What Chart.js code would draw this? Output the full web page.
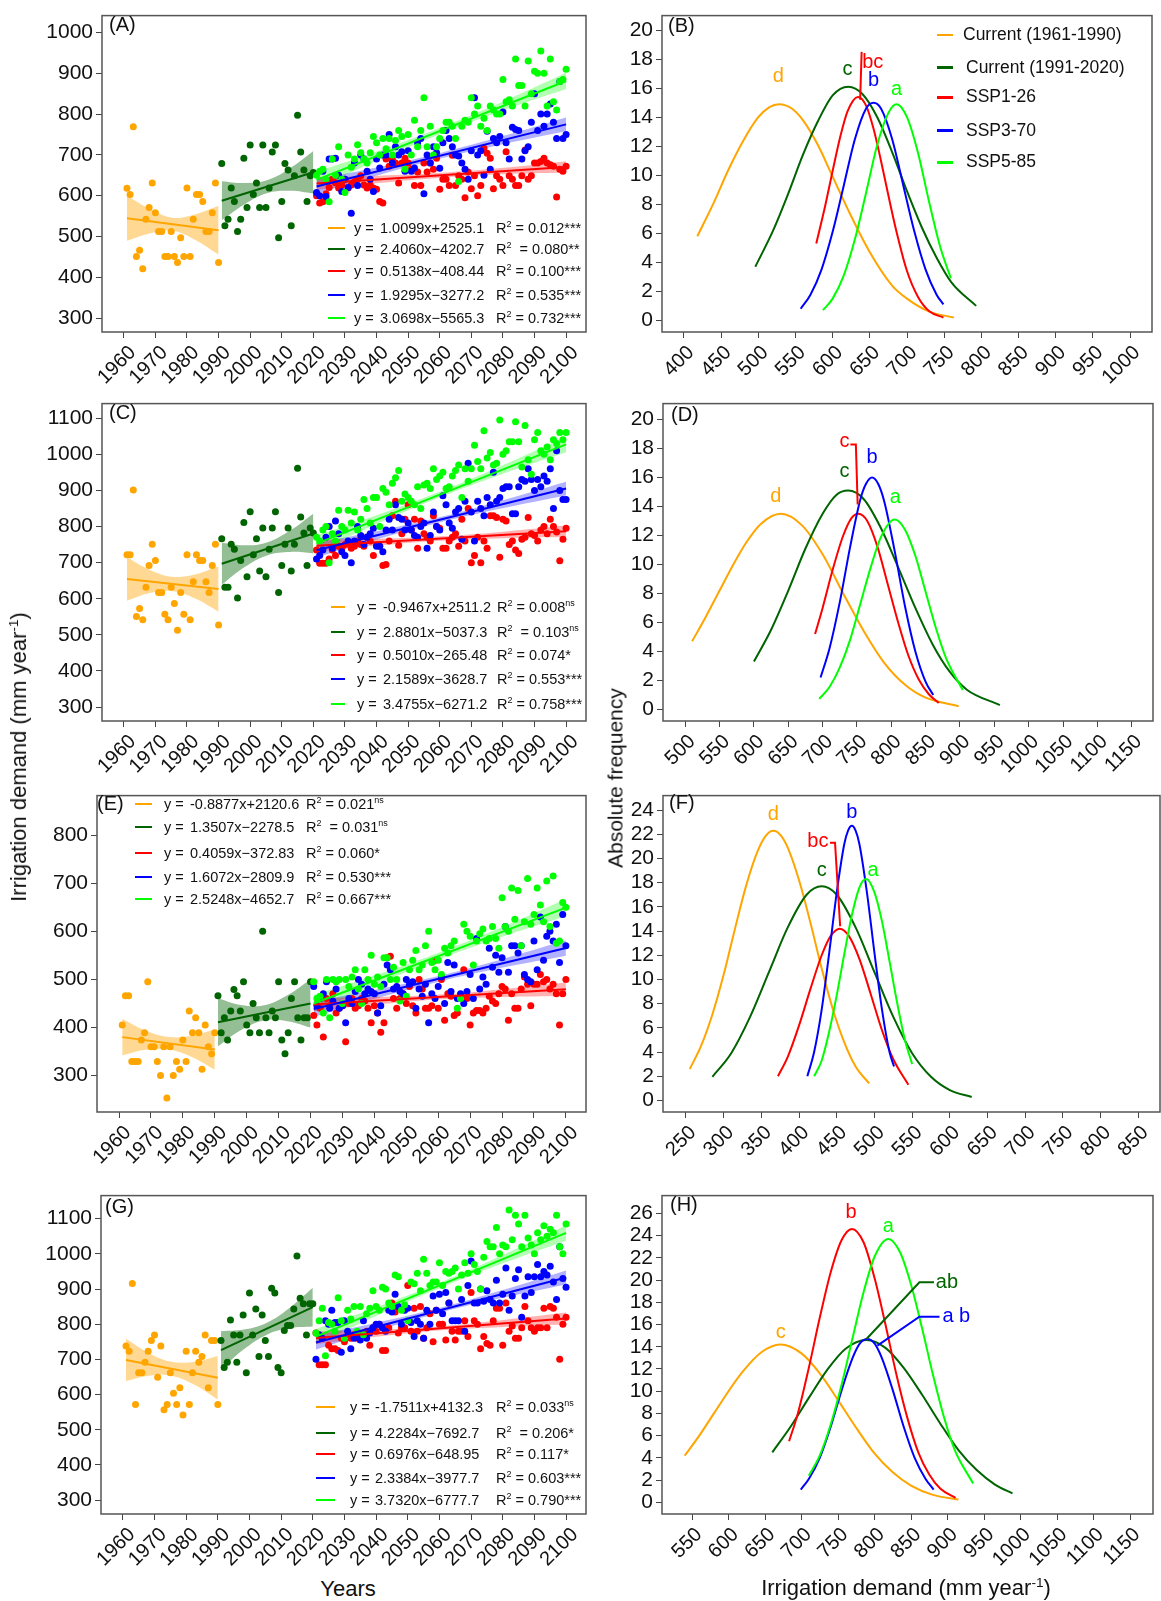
<!DOCTYPE html>
<html>
<head>
<meta charset="utf-8">
<title>Irrigation demand</title>
<script src="https://cdn.jsdelivr.net/npm/chart.js@4.4.1/dist/chart.umd.min.js"></script>
<style>
  body { margin: 0; background: #fff; font-family: "Liberation Sans", Arial, sans-serif; }
  #page { position: relative; width: 1161px; height: 1601px; overflow: hidden; background: #fff; }
  canvas { position: absolute; }
  .t { position: absolute; white-space: pre; color: #111; line-height: 1; }
  .t sup { font-size: 0.62em; vertical-align: 0.62em; line-height: 0; }
  .seg { position: absolute; height: 2.5px; }
</style>
</head>
<body>
<div id="page"></div>
<script>
const ORANGE = '#FFA500', DKGREEN = '#006400', RED = '#FF0000', BLUE = '#0000FF', GREEN = '#00FF00';
const COLORS = [ORANGE, DKGREEN, RED, BLUE, GREEN];
const BAND_COLORS = ['rgba(255,165,0,0.42)', 'rgba(0,100,0,0.42)', 'rgba(255,0,0,0.3)', 'rgba(0,0,255,0.3)', 'rgba(0,255,0,0.3)'];

// categories
const yearsP1 = [1961,1962,1963,1964,1965,1966,1967,1968,1969,1970,1971,1972,1973,1974,1975,1976,1977,1978,1979,1980,1981,1982,1983,1984,1985,1986,1987,1988,1989,1990];
const yearsP2 = [1991,1992,1993,1994,1995,1996,1997,1998,1999,2000,2001,2002,2003,2004,2005,2006,2007,2008,2009,2010,2011,2012,2013,2014,2015,2016,2017,2018,2019,2020];
const yearsF = [2021,2022,2023,2024,2025,2026,2027,2028,2029,2030,2031,2032,2033,2034,2035,2036,2037,2038,2039,2040,
  2041,2042,2043,2044,2045,2046,2047,2048,2049,2050,2051,2052,2053,2054,2055,2056,2057,2058,2059,2060,
  2061,2062,2063,2064,2065,2066,2067,2068,2069,2070,2071,2072,2073,2074,2075,2076,2077,2078,2079,2080,
  2081,2082,2083,2084,2085,2086,2087,2088,2089,2090,2091,2092,2093,2094,2095,2096,2097,2098,2099,2100];
const seriesNames = ['Current (1961-1990)', 'Current (1991-2020)', 'SSP1-26', 'SSP3-70', 'SSP5-85'];

// tick labels
const yearTicks = [1960,1970,1980,1990,2000,2010,2020,2030,2040,2050,2060,2070,2080,2090,2100];
const yTicksA = [300,400,500,600,700,800,900,1000];
const yTicksC = [300,400,500,600,700,800,900,1000,1100];
const yTicksE = [300,400,500,600,700,800];
const yTicksG = [300,400,500,600,700,800,900,1000,1100];
const xTicksB = [400,450,500,550,600,650,700,750,800,850,900,950,1000];
const xTicksD = [500,550,600,650,700,750,800,850,900,950,1000,1050,1100,1150];
const xTicksF = [250,300,350,400,450,500,550,600,650,700,750,800,850];
const xTicksH = [550,600,650,700,750,800,850,900,950,1000,1050,1100,1150];
const fTicks20 = [0,2,4,6,8,10,12,14,16,18,20];
const fTicks24 = [0,2,4,6,8,10,12,14,16,18,20,22,24];
const fTicks26 = [0,2,4,6,8,10,12,14,16,18,20,22,24,26];

// (A) yearly irrigation demand
const aOrange = [618,603,769,451,466,421,542,571,631,558,512,512,451,451,512,451,436,497,451,619,451,542,603,603,586,512,512,558,631,436];
const aDkGreen = [679,526,542,619,586,512,542,692,571,724,603,631,571,724,571,619,707,724,497,586,679,663,526,649,797,707,663,586,649,657];
const aRed = [600,582,585,605,620,640,632,619,626,640, 619,626,634,640,649,626,619,626,619,616,
  586,582,690,672,690,680,631,680,692,680, 665,625,658,625,680,658,680,665,692,616,
  640,640,625,699,625,649,640,595,658,617, 649,600,625,716,704,692,617,649,640,625,
  708,649,640,625,625,649,712,640,649,680, 680,684,692,680,676,672,597,665,660,672];
const aBlue = [608,600,660,598,690,690,692,650,610,640, 620,557,680,625,700,690,660,640,610,690,
  668,700,700,750,680,720,700,708,660,710, 660,668,730,740,605,700,680,720,705,667,
  730,760,740,720,700,697,680,665,640,710, 840,700,710,650,758,665,740,730,745,805,
  730,690,768,762,760,690,710,720,780,850, 760,800,770,800,825,780,740,880,740,750];
const aGreen = [650,660,665,640,585,690,650,720,640,608, 700,670,690,725,705,690,680,705,745,730,
  700,740,715,740,700,735,760,745,665,750, 700,785,720,760,840,720,770,700,720,740,
  760,780,780,770,740,635,770,785,780,840, 800,820,770,790,760,820,810,800,800,885,
  830,835,820,935,870,870,820,930,850,905, 900,955,900,820,935,830,810,880,885,910];
const slopeA = [-1.0099, 2.4060, 0.5138, 1.9295, 3.0698];
const interA = [2525.1, -4202.7, -408.44, -3277.2, -5565.3];
const bandA = [[55,30,16,32,60],[48,26,16,28,52],[16,9,6,8,14],[18,10,7,10,17],[20,11,8,11,20]];
const eqA = ['1.0099x+2525.1', '2.4060x\u22124202.7', '0.5138x\u2212408.44', '1.9295x\u22123277.2', '3.0698x\u22125565.3'];
const r2A = ['R<sup>2</sup> = 0.012***', 'R<sup>2</sup>  = 0.080**', 'R<sup>2</sup> = 0.100***', 'R<sup>2</sup> = 0.535***', 'R<sup>2</sup> = 0.732***'];

// (C)
const cOrange = [722,722,901,551,573,542,632,692,751,706,617,617,557,542,632,587,513,617,557,722,542,647,722,706,706,647,617,692,751,527];
const cDkGreen = [766,632,632,751,737,602,706,811,661,841,722,766,677,796,661,737,796,841,617,692,751,796,677,751,961,826,782,692,796,782];
const cRed = [735,698,698,698,710,735,720,745,740,750, 755,740,745,760,750,745,770,760,720,748,
  745,692,695,760,830,870,748,780,820,860, 790,820,740,815,780,770,760,830,800,795,
  740,740,760,770,780,745,820,760,850,700, 720,770,700,760,740,830,830,825,715,820,
  815,750,760,735,725,765,770,825,780,775, 760,790,800,780,820,800,785,705,765,795];
const cBlue = [710,720,735,770,800,740,815,780,730,720, 760,700,760,800,775,750,770,780,795,745,
  745,730,790,820,790,860,825,820,790,810, 790,775,770,800,810,740,775,840,800,790,
  885,860,810,795,840,850,765,870,975,840, 760,870,850,830,880,860,950,870,880,905,
  910,910,835,835,910,930,925,960,930,900, 930,910,940,925,960,850,1010,900,875,875];
const cGreen = [770,760,790,800,700,780,760,845,800,790, 845,810,840,790,820,875,850,810,880,880,
  800,905,895,860,920,935,955,870,890,880, 870,860,910,850,915,920,905,960,930,940,
  950,905,910,940,955,970,880,960,925,960, 1025,980,960,1065,990,1005,970,975,1095,1000,
  1010,1035,1035,1090,1035,965,1080,985,945,1040, 1060,1010,1000,1020,985,1040,1030,1060,1040,1060];
const slopeC = [-0.9467, 2.8801, 0.5010, 2.1589, 3.4755];
const interC = [2511.2, -5037.3, -265.48, -3628.7, -6271.2];
const bandC = [[60,32,20,34,63],[58,30,18,30,55],[17,9,6,9,16],[20,11,7,11,19],[22,12,8,12,22]];
const eqC = ['-0.9467x+2511.2', '2.8801x\u22125037.3', '0.5010x\u2212265.48', '2.1589x\u22123628.7', '3.4755x\u22126271.2'];
const r2C = ['R<sup>2</sup> = 0.008<sup>ns</sup>', 'R<sup>2</sup>  = 0.103<sup>ns</sup>', 'R<sup>2</sup> = 0.074*', 'R<sup>2</sup> = 0.553***', 'R<sup>2</sup> = 0.758***'];

// (E)
const eOrange = [405,466,466,329,329,329,374,389,495,360,360,329,300,360,253,360,300,329,313,374,329,434,389,420,389,313,405,360,345,389];
const eDkGreen = [466,389,420,374,434,479,466,434,495,405,389,450,420,389,600,420,389,434,420,495,374,345,389,460,495,420,374,420,420,495];
const eRed = [425,405,440,380,460,445,470,430,440,445, 370,450,460,440,445,460,455,440,410,445,
  430,390,410,545,548,460,440,460,470,450, 485,445,430,500,480,440,440,445,540,440,
  500,415,470,465,425,430,465,520,460,405, 430,435,435,430,440,465,455,450,470,485,
  480,415,470,440,440,480,505,490,445,490, 490,510,495,500,480,490,470,405,470,500];
const eBlue = [485,445,460,470,495,440,455,480,440,445, 410,460,450,475,500,490,470,480,475,470,
  430,445,490,530,520,480,485,475,470,500, 490,495,440,480,465,490,410,470,460,485,
  505,450,535,475,530,460,470,450,475,510, 460,585,480,505,490,565,525,550,515,545,
  610,515,570,570,555,570,510,500,495,580, 520,630,540,590,600,580,615,535,635,570];
const eGreen = [495,460,465,430,500,420,500,495,500,450, 500,485,505,520,480,450,520,500,550,490,
  505,485,545,545,500,525,500,455,535,465, 520,540,560,520,530,570,600,535,520,540,
  510,565,555,570,580,440,460,615,600,590, 530,580,595,605,580,585,610,585,565,670,
  610,600,690,625,685,570,620,710,615,635, 690,655,620,705,610,715,575,580,660,650];
const slopeE = [-0.8877, 1.3507, 0.4059, 1.6072, 2.5248];
const interE = [2120.6, -2278.5, -372.83, -2809.9, -4652.7];
const bandE = [[38,20,13,22,42],[50,26,16,27,50],[14,8,5,8,14],[16,9,6,9,16],[18,10,7,10,18]];
const eqE = ['-0.8877x+2120.6', '1.3507x\u22122278.5', '0.4059x\u2212372.83', '1.6072x\u22122809.9', '2.5248x\u22124652.7'];
const r2E = ['R<sup>2</sup> = 0.021<sup>ns</sup>', 'R<sup>2</sup>  = 0.031<sup>ns</sup>', 'R<sup>2</sup> = 0.060*', 'R<sup>2</sup> = 0.530***', 'R<sup>2</sup> = 0.667***'];

// (G)
const gOrange = [738,723,916,572,662,662,692,723,754,769,649,738,557,572,662,604,572,619,542,723,572,662,723,692,708,769,619,754,754,572];
const gDkGreen = [754,677,692,812,769,692,769,826,662,889,769,843,708,826,754,708,902,889,677,662,782,796,796,843,994,874,858,769,858,858];
const gRed = [775,685,685,685,740,730,730,725,760,750, 765,760,770,760,770,775,780,740,790,780,
  800,725,725,790,860,835,775,790,790,910, 780,845,780,850,760,790,830,750,840,800,
  800,755,860,780,755,780,780,810,765,890, 810,800,730,765,745,740,810,845,845,740,
  860,780,795,760,760,790,850,810,790,780, 790,790,845,790,850,845,820,700,800,820];
const gBlue = [700,770,760,810,800,840,805,805,720,810, 780,730,760,770,755,810,760,775,790,800,
  800,790,780,840,835,885,850,800,840,845, 805,765,810,800,760,840,800,880,840,885,
  830,890,860,810,810,810,870,780,910,980, 860,860,900,865,895,870,860,925,860,885,
  960,840,880,930,955,820,880,935,890,935, 970,935,950,940,965,920,870,1020,930,905];
const gGreen = [775,810,845,710,805,800,780,875,810,760, 840,815,850,780,850,770,830,845,895,850,
  840,905,900,860,850,940,935,840,855,810, 920,915,945,895,985,945,910,920,920,975,
  910,950,945,950,960,900,940,975,945,1000, 970,950,900,990,1035,1020,1020,1075,1000,1025,
  1020,1125,1040,1110,1085,1020,1110,1045,1025,1000, 1060,1040,1080,1050,1070,1060,1110,1020,1000,1085];
const slopeG = [-1.7511, 4.2284, 0.6976, 2.3384, 3.7320];
const interG = [4132.3, -7692.7, -648.95, -3977.7, -6777.7];
const bandG = [[60,32,20,33,62],[54,28,17,29,55],[18,10,6,10,17],[20,11,7,11,20],[22,12,8,12,22]];
const eqG = ['-1.7511x+4132.3', '4.2284x\u22127692.7', '0.6976x\u2212648.95', '2.3384x\u22123977.7', '3.7320x\u22126777.7'];
const r2G = ['R<sup>2</sup> = 0.033<sup>ns</sup>', 'R<sup>2</sup>  = 0.206*', 'R<sup>2</sup> = 0.117*', 'R<sup>2</sup> = 0.603***', 'R<sup>2</sup> = 0.790***'];

// (B) frequency curves [irrigation demand, absolute frequency]
const bOrange = [[418,5.8],[440,8.1],[460,10.4],[480,12.4],[500,14.0],[515,14.7],[528,14.9],[545,14.6],[560,13.8],[580,12.1],[600,9.9],[620,7.7],[650,4.7],[680,2.4],[700,1.5],[730,0.6],[763,0.2]];
const bDkGreen = [[496,3.7],[520,6.2],[540,8.7],[560,11.4],[580,13.7],[600,15.5],[621,16.1],[640,15.6],[660,14.0],[680,11.6],[700,8.9],[720,6.4],[740,4.3],[760,2.6],[793,1.0]];
const bRed = [[578,5.3],[590,7.9],[600,10.3],[610,12.6],[620,14.4],[634,15.4],[645,14.8],[655,13.2],[665,11.0],[675,8.6],[685,6.3],[700,3.4],[715,1.6],[730,0.63],[749,0.2]];
const bBlue = [[557,0.8],[570,1.75],[585,3.5],[600,6.1],[615,9.3],[630,12.5],[645,14.6],[655,15.0],[665,14.6],[680,12.5],[695,9.3],[710,6.1],[725,3.5],[740,1.75],[749,1.1]];
const bGreen = [[587,0.7],[600,1.5],[615,3.1],[630,5.6],[645,8.8],[660,12.1],[675,14.3],[686,14.9],[700,14.0],[715,11.5],[730,8.1],[745,5.0],[759,2.9]];
const textsB = [['d',527,16.8,ORANGE],['c',620,17.3,DKGREEN],['bc',654,17.8,RED],['b',655,16.5,BLUE],['a',686,15.9,GREEN]];
const linesB = [[[[637,15.2],[639,18.5]], RED]];

// (D)
const dOrange = [[510,4.7],[530,6.4],[550,8.2],[570,10.0],[590,11.6],[610,12.8],[639,13.5],[670,12.7],[700,10.7],[730,8.0],[760,5.4],[790,3.2],[820,1.7],[850,0.81],[898,0.22]];
const dDkGreen = [[600,3.3],[625,5.5],[650,8.2],[675,11.1],[700,13.5],[720,14.8],[737,15.1],[760,14.5],[785,12.5],[810,9.8],[835,7.0],[860,4.5],[885,2.6],[910,1.36],[958,0.3]];
const dRed = [[689,5.2],[700,7.0],[715,9.7],[730,12.0],[742,13.2],[752,13.5],[765,13.0],[780,11.2],[795,8.6],[810,6.0],[825,3.7],[840,2.06],[855,1.03],[869,0.45]];
const dBlue = [[697,2.2],[710,4.2],[725,7.4],[740,11.2],[755,14.5],[763,15.55],[772,16.0],[781,15.55],[790,14.3],[805,10.9],[820,7.1],[835,4.0],[850,1.9],[861,1.0]];
const dGreen = [[695,0.72],[710,1.55],[725,2.9],[740,4.8],[755,7.3],[770,9.8],[785,11.9],[805,13.1],[820,12.4],[835,10.6],[850,8.1],[865,5.6],[880,3.5],[904,1.34]];
const textsD = [['d',632,14.7,ORANGE],['c',732,16.4,DKGREEN],['c',732,18.5,RED],['b',772,17.4,BLUE],['a',806,14.6,GREEN]];
const linesD = [[[[740.4,18.28],[748.4,18.28],[751,14.14]], RED]];

// (F)
const fOrange = [[255,2.6],[270,4.5],[285,7.1],[300,10.4],[315,14.2],[330,17.8],[345,20.6],[356,21.9],[366,22.3],[376,21.9],[385,20.9],[400,18.2],[415,14.7],[430,10.9],[445,7.5],[460,4.8],[475,2.8],[493,1.4]];
const fDkGreen = [[285,1.95],[310,3.9],[335,6.9],[360,10.6],[385,14.3],[410,17.0],[430,17.7],[450,17.0],[475,14.3],[500,10.6],[525,6.9],[550,3.9],[575,1.95],[600,0.85],[629,0.28]];
const fRed = [[372,2.0],[385,3.6],[400,6.2],[415,9.2],[430,12.0],[442,13.6],[454,14.2],[466,13.6],[480,11.7],[495,8.8],[510,5.8],[525,3.4],[545,1.3]];
const fBlue = [[411,2.0],[420,4.0],[430,7.5],[440,12.2],[450,17.2],[460,21.2],[465,22.3],[470,22.7],[475,22.3],[480,21.2],[490,17.2],[500,12.2],[510,7.5],[520,4.0],[526,2.8]];
const fGreen = [[420,2.0],[430,3.3],[440,5.7],[450,8.7],[460,12.1],[470,15.3],[480,17.6],[489,18.3],[500,17.2],[510,14.8],[520,11.5],[530,8.1],[540,5.1],[550,3.0]];
const textsF = [['d',366,23.65,ORANGE],['b',470,23.8,BLUE],['bc',425,21.4,RED],['c',430,19.0,DKGREEN],['a',498,19.0,GREEN]];
const linesF = [[[[441,21.3],[447.7,21.3],[454.5,14.4]], RED]];

// (H)
const hOrange = [[540,4.2],[560,6.0],[580,8.0],[600,10.0],[620,11.8],[645,13.5],[671,14.2],[700,13.4],[725,11.6],[750,9.2],[775,6.7],[800,4.4],[825,2.7],[850,1.5],[880,0.67],[915,0.25]];
const hDkGreen = [[660,4.5],[685,6.8],[710,9.4],[735,11.9],[760,13.8],[789,14.6],[815,13.9],[840,12.1],[865,9.7],[890,7.1],[915,4.7],[940,2.9],[965,1.6],[989,0.8]];
const hRed = [[683,5.5],[695,8.0],[710,12.1],[725,16.6],[740,20.7],[755,23.6],[769,24.6],[785,23.4],[800,20.2],[815,16.0],[830,11.5],[845,7.6],[860,4.5],[875,2.5],[890,1.24],[911,0.4]];
const hBlue = [[699,1.15],[710,2.1],[725,4.0],[740,6.8],[755,10.1],[770,13.0],[780,14.3],[790,14.7],[800,14.3],[810,13.0],[825,10.1],[840,6.8],[855,4.0],[870,2.1],[881,1.15]];
const hGreen = [[710,2.4],[725,4.2],[740,7.0],[755,10.6],[770,14.8],[785,18.9],[800,22.1],[819,23.7],[835,22.5],[850,19.6],[865,15.7],[880,11.5],[895,7.7],[910,4.7],[935,1.7]];
const textsH = [['c',671.5,15.25,ORANGE],['b',768,26.06,RED],['a',819,24.8,GREEN],['ab',884,19.8,DKGREEN,'left'],['a b',893,16.7,BLUE,'left']];
const linesH = [[[[789,14.7],[861.5,19.8],[881.5,19.8]], DKGREEN], [[[804,14.1],[861.5,16.7],[889,16.7]], BLUE]];

const page = document.getElementById('page');

function addText(html, x, y, size, opts) {
  opts = opts || {};
  const d = document.createElement('div');
  d.className = 't';
  d.innerHTML = html;
  d.style.left = x + 'px';
  d.style.top = y + 'px';
  d.style.fontSize = size + 'px';
  if (opts.color) d.style.color = opts.color;
  let tf = opts.center ? 'translate(-50%,-50%)' : 'translate(0,-50%)';
  if (opts.rotate) tf += ' rotate(-90deg)';
  d.style.transform = tf;
  page.appendChild(d);
}

function addSeg(x1, x2, y, color) {
  const d = document.createElement('div');
  d.className = 'seg';
  d.style.left = x1 + 'px';
  d.style.width = (x2 - x1) + 'px';
  d.style.top = (y - 1.25) + 'px';
  d.style.background = color;
  page.appendChild(d);
}

const boxPlugin = {
  id: 'box',
  afterDraw(chart) {
    const a = chart.chartArea, c = chart.ctx;
    c.save();
    c.strokeStyle = '#555';
    c.lineWidth = 1.5;
    c.strokeRect(a.left, a.top, a.right - a.left, a.bottom - a.top);
    c.restore();
  }
};

function annotPlugin(texts, lines) {
  return {
    id: 'annot',
    afterDatasetsDraw(chart) {
      const xs = chart.scales.x, ys = chart.scales.y, c = chart.ctx;
      c.save();
      lines.forEach(([pts, col]) => {
        c.beginPath();
        pts.forEach((p, i) => {
          const px = xs.getPixelForValue(p[0]), py = ys.getPixelForValue(p[1]);
          if (i) c.lineTo(px, py); else c.moveTo(px, py);
        });
        c.strokeStyle = col;
        c.lineWidth = 2;
        c.stroke();
      });
      texts.forEach(([t, x, y, col, align]) => {
        c.font = '20px "Liberation Sans", Arial, sans-serif';
        c.fillStyle = col;
        c.textAlign = align || 'center';
        c.textBaseline = 'middle';
        c.fillText(t, xs.getPixelForValue(x), ys.getPixelForValue(y));
      });
      c.restore();
    }
  };
}

function axis(range, ticks, horiz, size, shift) {
  return {
    type: 'linear',
    min: range[0],
    max: range[1],
    afterBuildTicks: s => { s.ticks = ticks.map(v => ({ value: v })); },
    afterFit: s => { if (horiz) s.height = size; else s.width = size; },
    grid: { drawOnChartArea: false, drawTicks: true, tickLength: 6, color: '#444', lineWidth: 1 },
    border: { display: false },
    ticks: {
      autoSkip: false,
      minRotation: horiz ? 45 : 0,
      maxRotation: horiz ? 45 : 0,
      labelOffset: shift || 0,
      padding: 3,
      color: '#111',
      font: { family: '"Liberation Sans", Arial, sans-serif', size: horiz ? 20 : 21 },
      callback: v => String(v)
    }
  };
}

function makeChart(left, top, w, h, box, xRange, xTicks, yRange, yTicks, datasets, plugins) {
  const cv = document.createElement('canvas');
  cv.width = w;
  cv.height = h;
  cv.style.left = left + 'px';
  cv.style.top = top + 'px';
  page.appendChild(cv);
  new Chart(cv, {
    type: 'scatter',
    data: { datasets: datasets },
    options: {
      responsive: false,
      animation: false,
      events: [],
      layout: { padding: { top: box[1] - top, right: left + w - box[2], left: 0, bottom: 0 } },
      plugins: { legend: { display: false }, tooltip: { enabled: false } },
      scales: {
        x: axis(xRange, xTicks, true, top + h - box[3], left === 0 ? 9 : 7),
        y: axis(yRange, yTicks, false, box[0] - left)
      }
    },
    plugins: [boxPlugin].concat(plugins || [])
  });
}

function yearlyDatasets(pts, slope, inter, band) {
  const spans = [[1961, 1990], [1991, 2020], [2021, 2100], [2021, 2100], [2021, 2100]];
  const years = [yearsP1, yearsP2, yearsF, yearsF, yearsF];
  const ds = [];
  for (let i = 0; i < 5; i++) {
    const x0 = spans[i][0], x1 = spans[i][1];
    const upper = [], lower = [];
    band[i].forEach((hw, k) => {
      const x = x0 + (x1 - x0) * k / 4;
      const y = slope[i] * x + inter[i];
      upper.push({ x: x, y: y + hw });
      lower.push({ x: x, y: y - hw });
    });
    ds.push({ type: 'line', data: upper, fill: '+1', backgroundColor: BAND_COLORS[i], borderWidth: 0, pointRadius: 0, tension: 0.4, order: 100 });
    ds.push({ type: 'line', data: lower, fill: false, borderWidth: 0, pointRadius: 0, tension: 0.4, order: 100 });
  }
  for (let i = 0; i < 5; i++) {
    ds.push({
      data: years[i].map((x, j) => ({ x: x, y: pts[i][j] })),
      backgroundColor: COLORS[i], pointBackgroundColor: COLORS[i],
      borderWidth: 0, pointBorderWidth: 0, pointRadius: 3.5, order: 50 - i
    });
  }
  for (let i = 0; i < 5; i++) {
    const x0 = spans[i][0], x1 = spans[i][1];
    ds.push({
      type: 'line',
      data: [{ x: x0, y: slope[i] * x0 + inter[i] }, { x: x1, y: slope[i] * x1 + inter[i] }],
      borderColor: COLORS[i], borderWidth: 2, pointRadius: 0, fill: false, order: 10 - i
    });
  }
  return ds;
}

function curveDatasets(curves) {
  return curves.map((c, i) => ({
    type: 'line',
    data: c.map(p => ({ x: p[0], y: p[1] })),
    borderColor: COLORS[i], borderWidth: 2, pointRadius: 0, fill: false,
    cubicInterpolationMode: 'monotone', order: 10 - i
  }));
}

const yearRange = [1953.1, 2106.3];

// left column
makeChart(0, 0, 590, 395, [102, 5, 589, 332], yearRange, yearTicks, [265.8, 1041.5], yTicksA,
  yearlyDatasets([aOrange, aDkGreen, aRed, aBlue, aGreen], slopeA, interA, bandA));
makeChart(0, 388, 590, 397, [102, 394, 589, 721], yearRange, yearTicks, [261.5, 1140.3], yTicksC,
  yearlyDatasets([cOrange, cDkGreen, cRed, cBlue, cGreen], slopeC, interC, bandC));
makeChart(0, 780, 590, 400, [97, 786, 589, 1112], yearRange, yearTicks, [224, 882.5], yTicksE,
  yearlyDatasets([eOrange, eDkGreen, eRed, eBlue, eGreen], slopeE, interE, bandE));
makeChart(0, 1180, 590, 395, [101, 1187, 589, 1514], yearRange, yearTicks, [260.4, 1165.6], yTicksG,
  yearlyDatasets([gOrange, gDkGreen, gRed, gBlue, gGreen], slopeG, interG, bandG));

// right column
makeChart(600, 0, 561, 395, [662, 5, 1152, 332], [370.5, 1029.5], xTicksB, [-0.8, 21.0], fTicks20,
  curveDatasets([bOrange, bDkGreen, bRed, bBlue, bGreen]), [annotPlugin(textsB, linesB)]);
makeChart(600, 388, 561, 397, [663, 394, 1153, 721], [467.6, 1181], xTicksD, [-0.8, 21.1], fTicks20,
  curveDatasets([dOrange, dDkGreen, dRed, dBlue, dGreen]), [annotPlugin(textsD, linesD)]);
makeChart(600, 780, 561, 400, [663, 786, 1160, 1112], [219.5, 878.8], xTicksF, [-0.96, 25.2], fTicks24,
  curveDatasets([fOrange, fDkGreen, fRed, fBlue, fGreen]), [annotPlugin(textsF, linesF)]);
makeChart(600, 1180, 561, 395, [662, 1187, 1153, 1514], [508.9, 1181.5], xTicksH, [-1.05, 27.6], fTicks26,
  curveDatasets([hOrange, hDkGreen, hRed, hBlue, hGreen]), [annotPlugin(textsH, linesH)]);

// panel letters
addText('(A)', 109, 23.5, 20);
addText('(B)', 668, 25, 20);
addText('(C)', 109, 412, 20);
addText('(D)', 671, 413.5, 20);
addText('(E)', 97, 803, 20);
addText('(F)', 669, 802, 20);
addText('(G)', 105, 1205.5, 20);
addText('(H)', 670, 1204, 20);

// regression legends
function eqLegend(rowsY, segX1, segX2, yEqX, eqX, rX, eqs, r2s) {
  rowsY.forEach((y, i) => {
    addSeg(segX1, segX2, y, COLORS[i]);
    addText('y =', yEqX, y, 14.5);
    addText(eqs[i], eqX, y, 14.5);
    addText(r2s[i], rX, y, 14.5);
  });
}
eqLegend([228, 249, 271, 295, 318], 328, 345, 354, 380, 496, eqA, r2A);
eqLegend([607, 632, 655, 679, 704], 331, 345, 357, 383, 497, eqC, r2C);
eqLegend([804, 827, 853, 877, 899], 135, 152, 164, 190, 306, eqE, r2E);
eqLegend([1407, 1433, 1454, 1478, 1500], 316, 335, 350, 375, 496, eqG, r2G);

// scenario legend in (B)
[35, 67.7, 97.3, 130.7, 162.3].forEach((y, i) => {
  addSeg(937, 953, y, COLORS[i]);
  addText(seriesNames[i], i === 0 ? 963 : 966, y, 17.5);
});

// axis titles
addText('Irrigation demand (mm year<sup>-1</sup>)', 19, 757, 22, { center: true, rotate: true });
addText('Absolute frequency', 615, 778, 21, { center: true, rotate: true });
addText('Years', 348, 1589, 22, { center: true });
addText('Irrigation demand (mm year<sup>-1</sup>)', 906, 1588, 22, { center: true });
</script>
</body>
</html>
